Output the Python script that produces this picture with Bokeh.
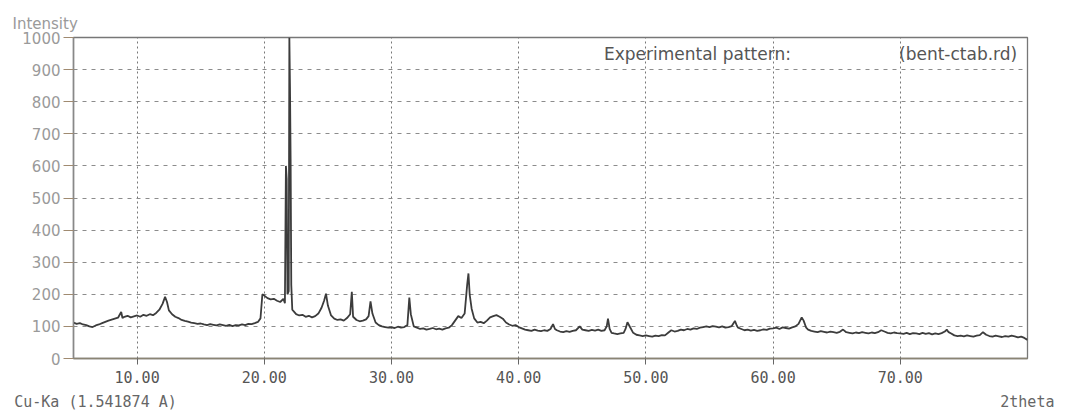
from bokeh.plotting import figure
from bokeh.models import Range1d, FixedTicker, PrintfTickFormatter, Label, LinearAxis, Title
from bokeh.embed import file_html
from bokeh.resources import INLINE

two_theta = [
    5.00, 5.25, 5.50, 5.75,
    6.00, 6.25, 6.50, 6.75,
    7.00, 7.25, 7.50, 7.75,
    8.00, 8.25, 8.50, 8.75, 8.85,
    9.00, 9.25, 9.50, 9.75,
    10.00, 10.25, 10.50, 10.75,
    11.00, 11.25, 11.50, 11.75,
    12.00, 12.20, 12.35, 12.50, 12.75,
    13.00, 13.25, 13.50, 13.75,
    14.00, 14.25, 14.50, 14.75,
    15.00, 15.25, 15.50, 15.75,
    16.00, 16.25, 16.50, 16.75,
    17.00, 17.25, 17.50, 17.75,
    18.00, 18.25, 18.50, 18.75,
    19.00, 19.25, 19.50, 19.70, 19.85,
    20.00, 20.25, 20.50, 20.75,
    21.00, 21.25, 21.50, 21.62, 21.70, 21.76, 21.82, 21.92, 21.97,
    22.02, 22.07, 22.12, 22.20, 22.35, 22.50, 22.75,
    23.00, 23.25, 23.50, 23.75,
    24.00, 24.25, 24.50, 24.70, 24.85,
    25.00, 25.25, 25.50, 25.75,
    26.00, 26.25, 26.50, 26.75, 26.88, 26.98,
    27.25, 27.50, 27.75,
    28.00, 28.20, 28.35, 28.50, 28.75,
    29.00, 29.25, 29.50, 29.75,
    30.00, 30.25, 30.50, 30.75,
    31.00, 31.25, 31.40, 31.52, 31.75,
    32.00, 32.25, 32.50, 32.75,
    33.00, 33.25, 33.50, 33.75,
    34.00, 34.25, 34.50, 34.75,
    35.00, 35.25, 35.50, 35.75, 35.95,
    36.05, 36.15, 36.30, 36.50, 36.75,
    37.00, 37.25, 37.50, 37.75,
    38.00, 38.25, 38.50, 38.75,
    39.00, 39.25, 39.50, 39.75,
    40.00, 40.25, 40.50, 40.75,
    41.00, 41.25, 41.50, 41.75,
    42.00, 42.25, 42.50, 42.70, 42.85,
    43.00, 43.25, 43.50, 43.75,
    44.00, 44.25, 44.50, 44.80,
    45.00, 45.25, 45.50, 45.75,
    46.00, 46.25, 46.50, 46.75, 46.92,
    47.02, 47.15, 47.30, 47.50, 47.75,
    48.00, 48.25, 48.40, 48.55, 48.75,
    49.00, 49.25, 49.50, 49.75,
    50.00, 50.25, 50.50, 50.75,
    51.00, 51.25, 51.50, 51.75,
    52.00, 52.25, 52.50, 52.75,
    53.00, 53.25, 53.50, 53.75,
    54.00, 54.25, 54.50, 54.75,
    55.00, 55.25, 55.50, 55.75,
    56.00, 56.25, 56.50, 56.75,
    57.00, 57.15, 57.25, 57.50, 57.75,
    58.00, 58.25, 58.50, 58.75,
    59.00, 59.25, 59.50, 59.75,
    60.00, 60.25, 60.50, 60.75,
    61.00, 61.25, 61.50, 61.75,
    62.00, 62.25, 62.40, 62.60, 62.75,
    63.00, 63.25, 63.50, 63.75,
    64.00, 64.25, 64.50, 64.75,
    65.00, 65.25, 65.50, 65.75,
    66.00, 66.25, 66.50, 66.75,
    67.00, 67.25, 67.50, 67.75,
    68.00, 68.25, 68.50, 68.75,
    69.00, 69.25, 69.50, 69.75,
    70.00, 70.25, 70.50, 70.75,
    71.00, 71.25, 71.50, 71.75,
    72.00, 72.25, 72.50, 72.75,
    73.00, 73.25, 73.50, 73.65, 73.80,
    74.00, 74.25, 74.50, 74.75,
    75.00, 75.25, 75.50, 75.75,
    76.00, 76.25, 76.50, 76.75,
    77.00, 77.25, 77.50, 77.75,
    78.00, 78.25, 78.50, 78.75,
    79.00, 79.25, 79.50, 79.75,
    80.00,
]

intensity = [
    112, 108, 110, 106,
    104, 100, 98, 103,
    106, 110, 114, 118,
    121, 124, 127, 145, 126,
    130, 133, 128, 131,
    134, 130, 136, 133,
    138, 135, 142, 152,
    170, 192, 176, 150, 138,
    130, 126, 120, 117,
    115, 112, 110, 108,
    109, 106, 104, 107,
    105, 103, 106, 104,
    102, 105, 101, 104,
    103, 106, 104, 108,
    107, 110, 114, 125, 200,
    196, 188, 184, 186,
    180, 176, 186, 172, 600, 560, 200, 210, 1000,
    845, 620, 230, 152, 145, 138, 134,
    136, 130, 133, 128,
    132, 140, 158, 180, 202,
    165, 134, 124, 120,
    122, 118, 126, 138, 208, 130,
    120, 116, 118,
    122, 132, 178, 140, 112,
    104, 100, 98, 96,
    97, 95, 99, 96,
    98, 104, 190, 138, 100,
    96, 92, 94, 90,
    92, 95, 91, 93,
    90, 94, 96, 104,
    118, 132, 126, 140, 230,
    265, 198, 155, 125, 112,
    114, 110, 118, 128,
    132, 135, 130, 124,
    112, 106, 102, 104,
    98, 94, 90, 88,
    86, 90, 87, 85,
    88, 86, 92, 107, 92,
    88, 84, 82, 85,
    83, 86, 88, 100,
    90, 88, 86, 89,
    87, 90, 86, 88, 100,
    124, 92, 80, 78, 76,
    78, 80, 92, 113, 98,
    80, 74, 72, 70,
    72, 70, 68, 71,
    70, 73, 72, 80,
    88, 84, 86, 90,
    88, 92, 90, 94,
    92, 96, 98, 100,
    98, 101, 99, 97,
    100, 96, 98, 101,
    117, 102, 96, 92, 88,
    90, 87, 89, 86,
    88, 91, 89, 93,
    94, 96, 92, 97,
    95, 93, 97, 100,
    108, 128, 118, 96, 90,
    86, 84, 82, 85,
    83, 81, 84, 82,
    80, 83, 90, 82,
    80, 78, 81, 79,
    82, 80, 78, 81,
    79, 82, 88, 84,
    80, 78, 81, 79,
    78, 77, 80, 76,
    79, 78, 76, 80,
    77, 79, 75, 78,
    76, 79, 84, 90, 82,
    78, 72, 70, 71,
    69, 72, 70, 68,
    71, 73, 82, 74,
    70, 68, 71, 69,
    67, 70, 68, 71,
    69, 66, 68, 64,
    58,
]

x_ticks = [10, 20, 30, 40, 50, 60, 70]
y_ticks = [0, 100, 200, 300, 400, 500, 600, 700, 800, 900, 1000]
y_title = "Intensity"
x_title = "2theta"
source_text = "Cu-Ka (1.541874 A)"
legend_text = "Experimental pattern:"
file_text = "(bent-ctab.rd)"

assert len(two_theta) == len(intensity)

p = figure(width=1057, height=414, output_backend="svg", toolbar_location=None,
           x_range=Range1d(5, 80), y_range=Range1d(0, 1000),
           min_border_left=73, min_border_right=30, min_border_top=37, min_border_bottom=56)
p.background_fill_color = "white"
p.border_fill_color = "white"
p.outline_line_color = "#777777"
p.outline_line_width = 1.3

p.line(two_theta, intensity, line_color="#3c3c3c", line_width=1.8)

# axes
p.xaxis.ticker = FixedTicker(ticks=x_ticks)
p.xaxis.formatter = PrintfTickFormatter(format="%.2f")
p.xaxis.major_label_text_font = "DejaVu Sans Mono"
p.xaxis.major_label_text_font_size = "15px"
p.xaxis.major_label_text_color = "#555555"
p.xaxis.major_tick_out = 6
p.xaxis.major_tick_in = 0
p.xaxis.minor_tick_line_color = None
p.xaxis.major_label_standoff = 6
p.xaxis.axis_line_color = "#8a8474"
p.xaxis.axis_line_width = 1.3
p.xaxis.major_tick_line_color = "#666666"

# second row below the axis: source wavelength (left) and axis name (right)
note_axis = LinearAxis(
    ticker=FixedTicker(ticks=[6.73, 79.99]),
    major_label_overrides={6.73: source_text, 79.99: x_title},
    axis_line_color=None, major_tick_line_color=None, minor_tick_line_color=None,
    major_tick_out=0, major_tick_in=0, major_label_standoff=7,
    major_label_text_font="DejaVu Sans Mono", major_label_text_font_size="15px",
    major_label_text_color="#666666",
)
p.add_layout(note_axis, "below")

p.yaxis.ticker = FixedTicker(ticks=y_ticks)
p.yaxis.major_label_text_font = "DejaVu Sans"
p.yaxis.major_label_text_font_size = "15px"
p.yaxis.major_label_text_color = "#9a9a9a"
p.yaxis.major_tick_out = 10
p.yaxis.major_tick_in = 0
p.yaxis.minor_tick_line_color = None
p.yaxis.major_label_standoff = 3
p.yaxis.axis_line_color = "#888888"
p.yaxis.axis_line_width = 1.5
p.yaxis.major_tick_line_color = "#a08a70"

# grids
p.xgrid.ticker = FixedTicker(ticks=x_ticks)
p.xgrid.grid_line_color = "#777777"
p.xgrid.grid_line_dash = "2 3"
p.xgrid.grid_line_width = 1
p.ygrid.ticker = FixedTicker(ticks=y_ticks[1:-1])
p.ygrid.grid_line_color = "#8c8c8c"
p.ygrid.grid_line_dash = "4 5"
p.ygrid.grid_line_width = 1

# title above the y axis
p.add_layout(Title(text=y_title, align="left", offset=-61, standoff=9,
                   text_font="DejaVu Sans", text_font_size="15px",
                   text_font_style="normal", text_color="#9a9a9a"), "above")

# texts inside the frame
p.add_layout(Label(x=46.7, y=950, text=legend_text, text_font="DejaVu Sans", text_font_size="17px",
                   text_color="#555555", text_baseline="middle"))
p.add_layout(Label(x=69.9, y=950, text=file_text, text_font="DejaVu Sans", text_font_size="17px",
                   text_color="#555555", text_baseline="middle"))

open("out.html", "w").write(file_html(p, INLINE))
